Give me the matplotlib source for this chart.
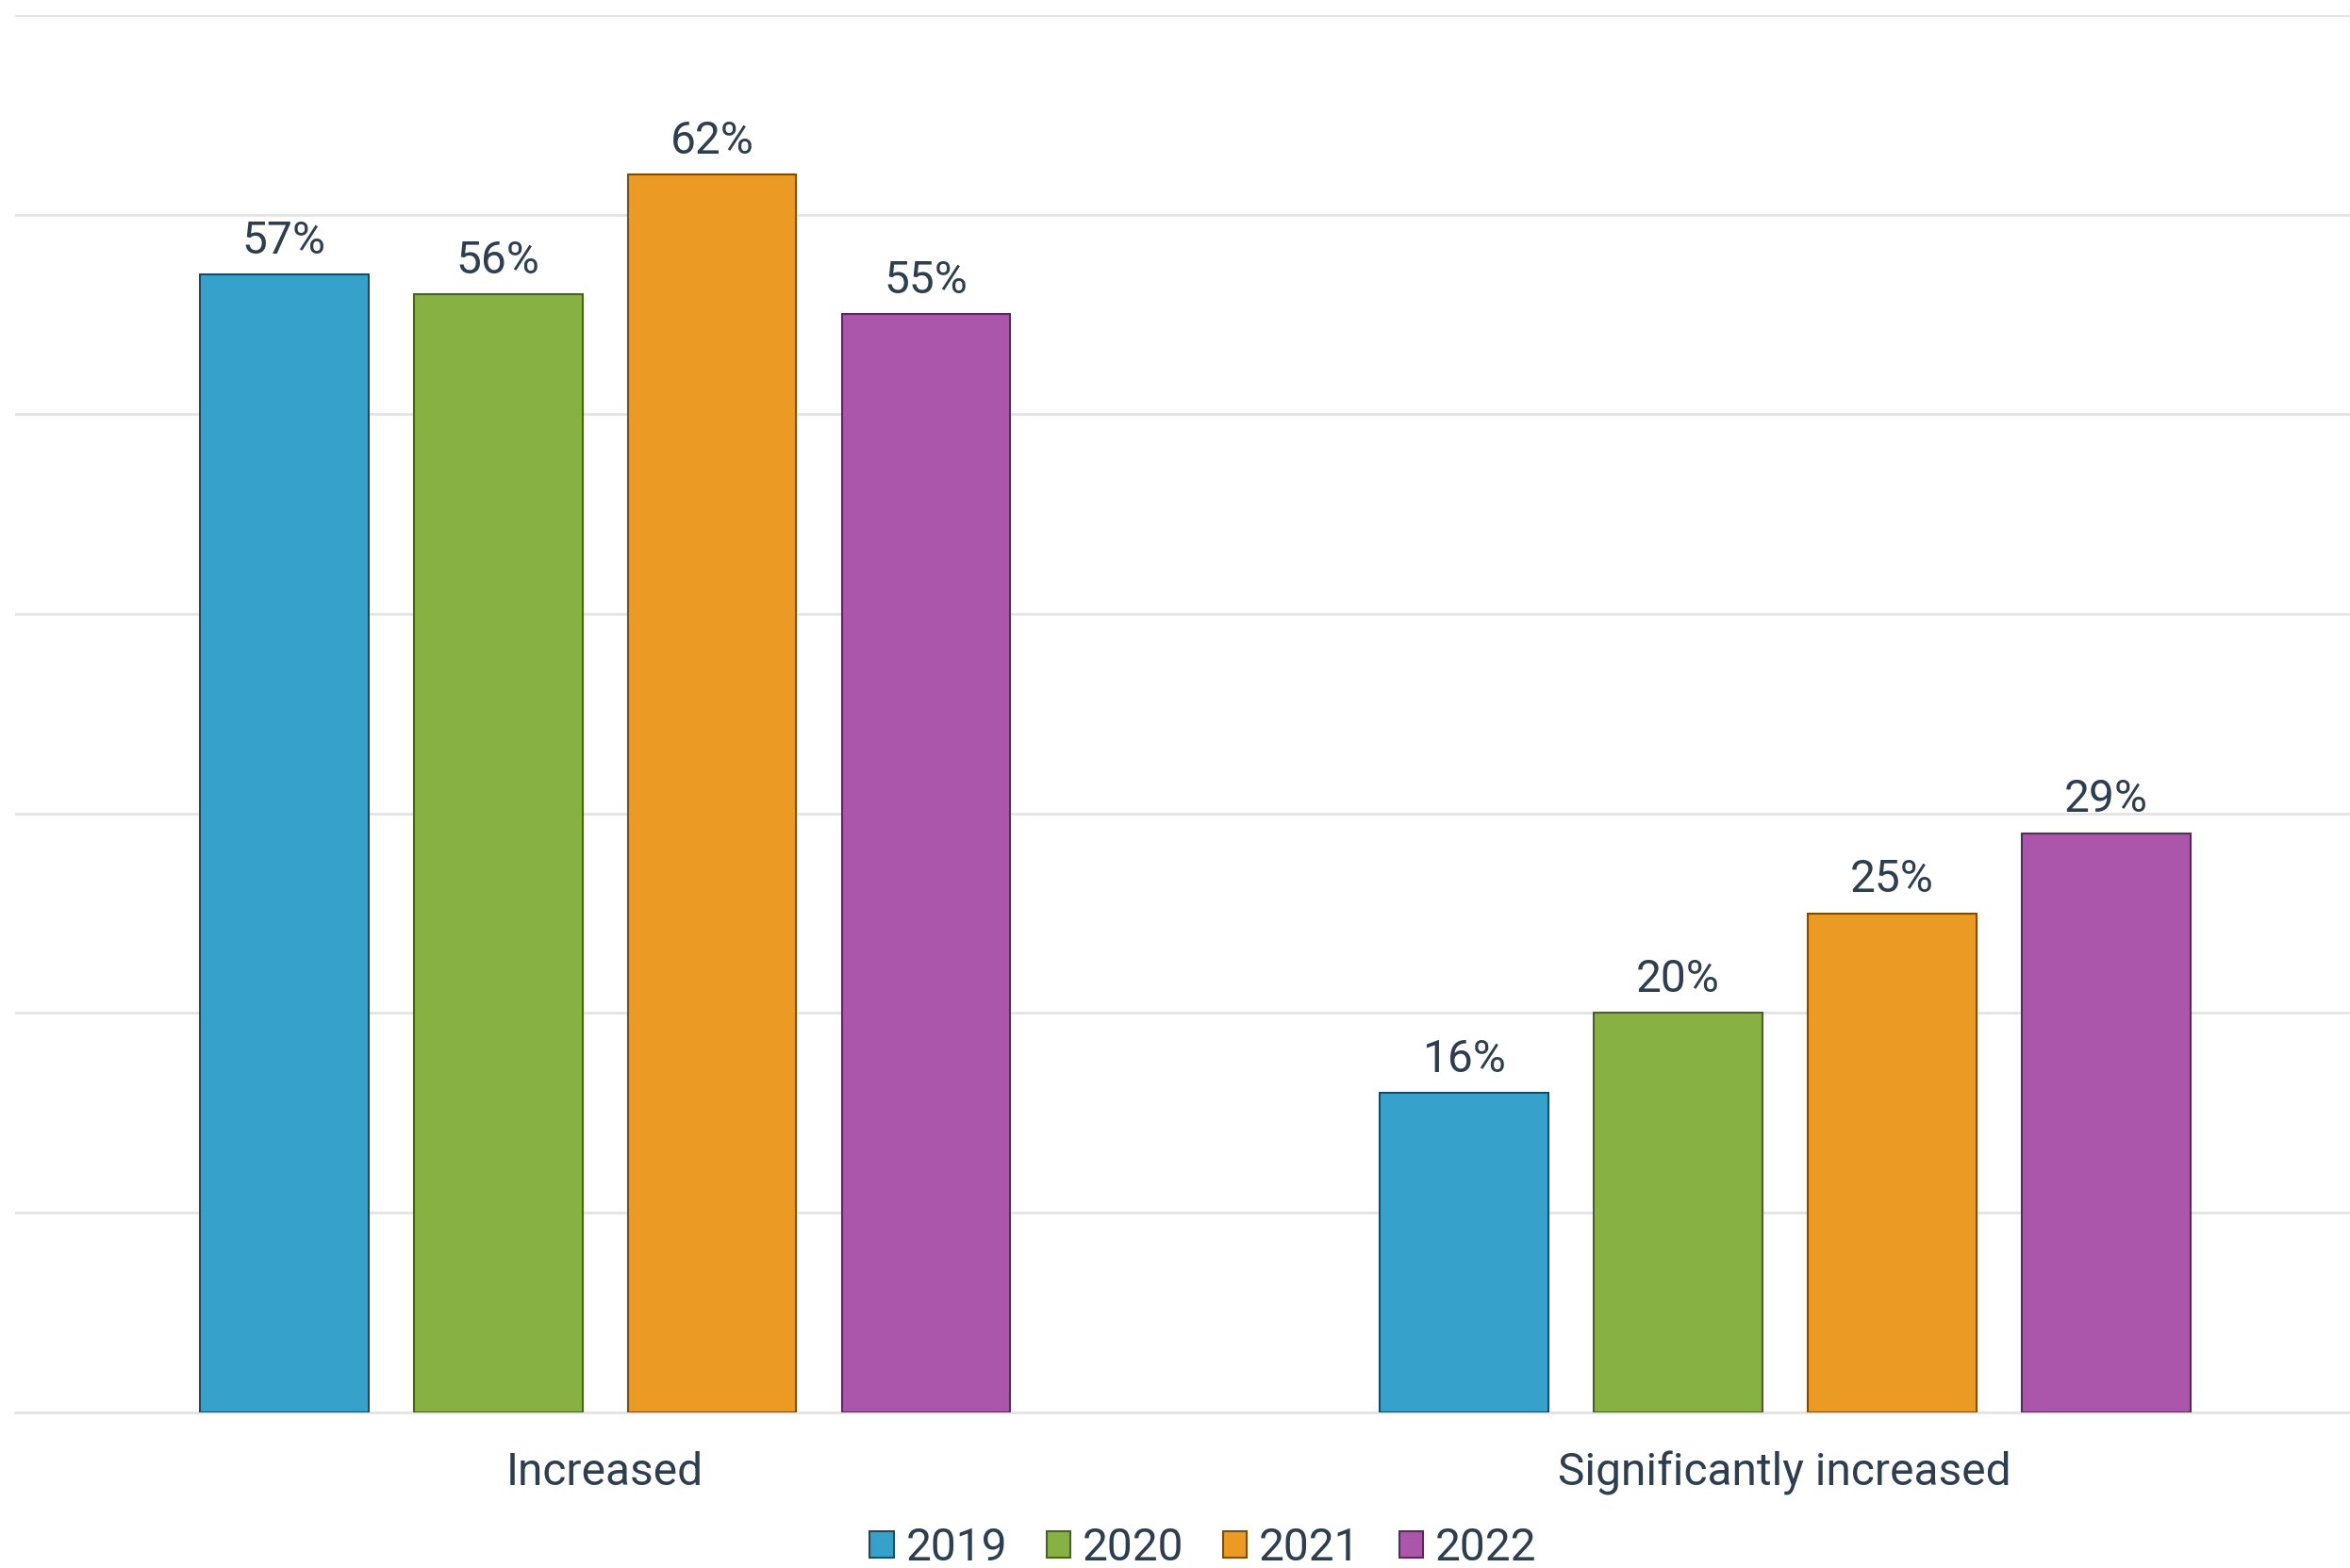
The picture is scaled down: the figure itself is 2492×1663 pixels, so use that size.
import matplotlib
matplotlib.use("Agg")
import matplotlib.pyplot as plt
import numpy as np
from matplotlib.patches import Patch

categories = ["Increased", "Significantly increased"]
years = ["2019", "2020", "2021", "2022"]
values = {
    "2019": [57, 16],
    "2020": [56, 20],
    "2021": [62, 25],
    "2022": [55, 29],
}
colors = ["#36a2cb", "#87b142", "#eb9a24", "#ab56ab"]
edges = ["#1d4a60", "#4a6420", "#7a4f0c", "#5a2a5e"]

plt.rcParams['font.family'] = ['Roboto', 'DejaVu Sans']
text_color = "#2c3e50"
fs = 34.5

fig = plt.figure(figsize=(24.92, 16.63), dpi=100)
ax = fig.add_axes([0.0064, 0.0994, 0.9936, 0.891])

x = np.arange(len(categories))
width = 0.143
pitch = 0.1814
for i, yr in enumerate(years):
    off = (i - 1.5) * pitch
    bars = ax.bar(x + off, values[yr], width, color=colors[i], edgecolor=edges[i],
                  linewidth=1.5, zorder=3)
    for b, v in zip(bars, values[yr]):
        ax.annotate(f"{v}%", (b.get_x() + b.get_width() / 2, b.get_height()),
                    xytext=(0, 9), textcoords="offset points", ha="center", va="bottom",
                    fontsize=fs, color=text_color)

ax.set_ylim(0, 70)
ax.set_xlim(-0.5, 1.479)
ax.set_yticks(np.arange(0, 71, 10))
ax.yaxis.grid(True, color="#e3e3e3", linewidth=2, zorder=0)
ax.tick_params(axis="y", left=False, labelleft=False)
ax.tick_params(axis="x", bottom=False, labelsize=fs, labelcolor=text_color, pad=26)
ax.set_xticks(x)
ax.set_xticklabels(categories)
for s in ["top", "right", "left"]:
    ax.spines[s].set_visible(False)
ax.spines["bottom"].set_color("#e3e3e3")
ax.spines["bottom"].set_linewidth(2)

handles = [Patch(facecolor=colors[i], edgecolor=edges[i], linewidth=1.5, label=years[i])
           for i in range(4)]
fig.legend(handles=handles, loc="center", bbox_to_anchor=(0.512, 0.0125), ncol=4,
           frameon=False, fontsize=fs, labelcolor=text_color,
           handlelength=0.53, handleheight=0.53, handletextpad=0.27, columnspacing=0.86)

fig.savefig("out.png", dpi=100, facecolor="white")
